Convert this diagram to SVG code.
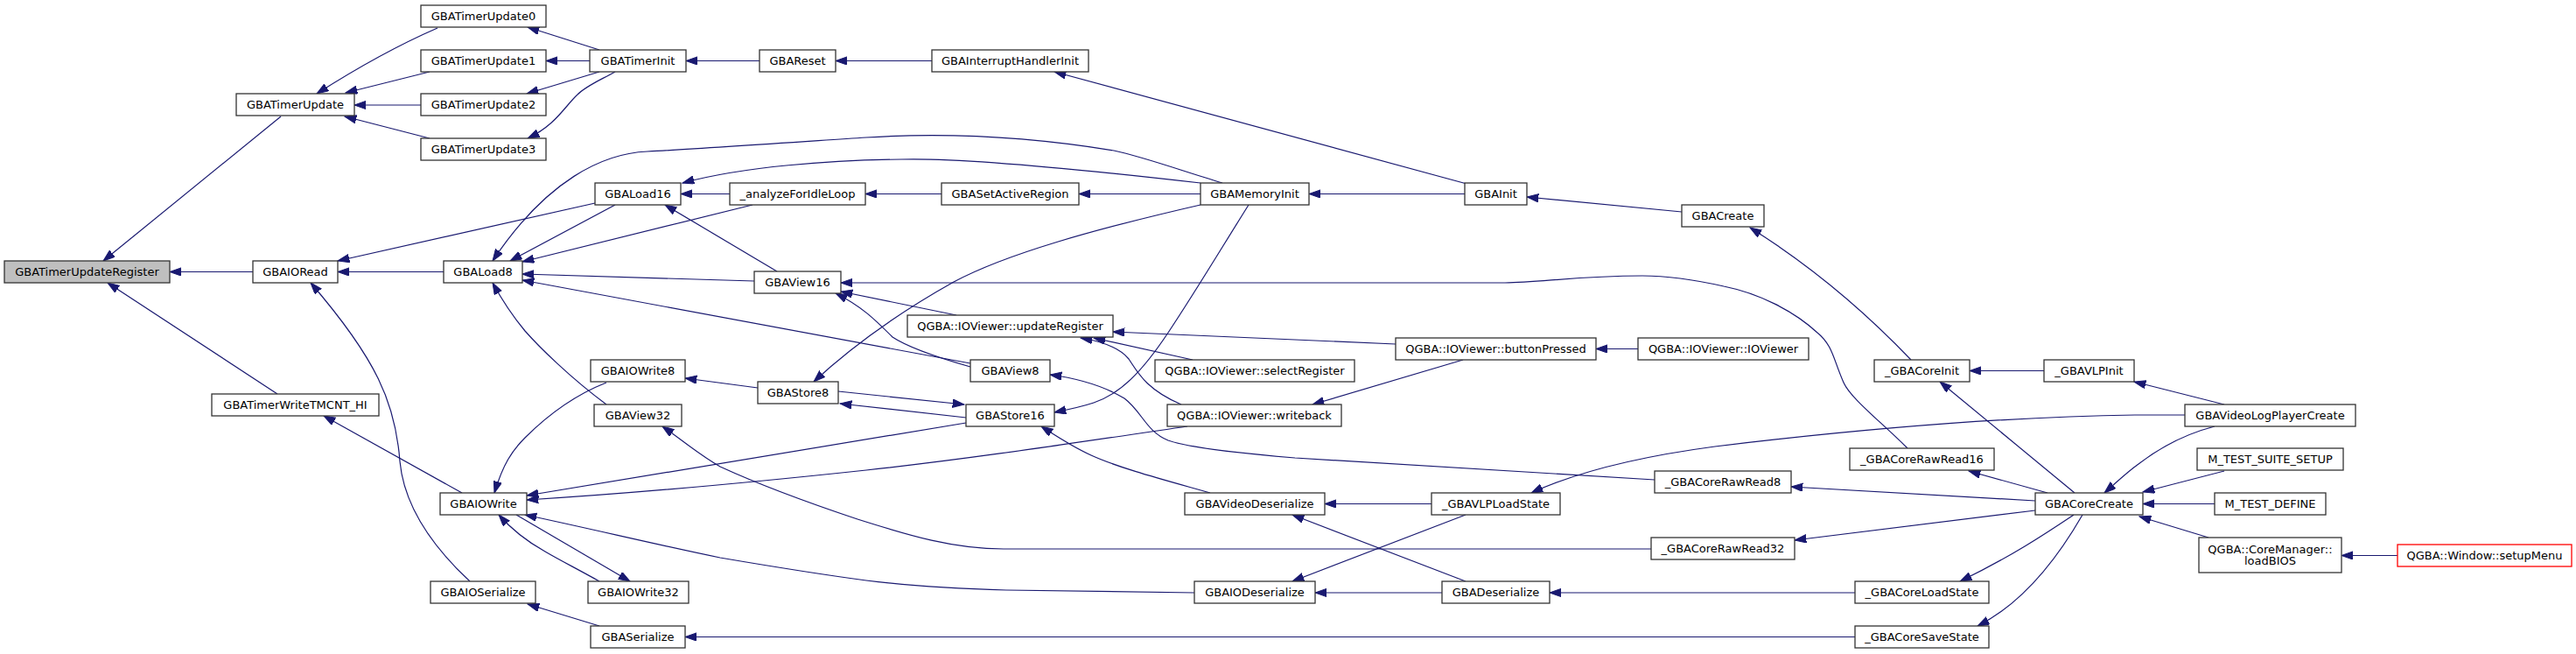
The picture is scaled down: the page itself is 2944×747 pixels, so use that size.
<svg xmlns="http://www.w3.org/2000/svg" width="2944" height="747" viewBox="0 0 2944 747">
<style>
.n rect{fill:#ffffff;stroke:#333333;stroke-width:1.3}
.n text{font-family:"DejaVu Sans","Liberation Sans",sans-serif;font-size:13px;fill:#000000;text-anchor:middle}
#n1 rect{fill:#bfbfbf}
#n43 rect{stroke:#ff0000}
.e path{fill:none;stroke:#191970;stroke-width:1.2;marker-end:url(#a)}
</style>
<defs>
<marker id="a" markerWidth="14" markerHeight="10" refX="13.3" refY="4.7" orient="auto" markerUnits="userSpaceOnUse"><path d="M0,0 L13.3,4.7 L0,9.4 z" fill="#191970" stroke="#191970" stroke-width="1"/></marker>
</defs>
<rect width="2944" height="747" fill="#ffffff"/>
<g class="e" id="edges">
<path d="M321,133 L118,298"/>
<path d="M289,310.5 L194,310.5"/>
<path d="M317,450 L123,323"/>
<path d="M500,32 C470,45 420,70 362,107"/>
<path d="M491,82 L395,106"/>
<path d="M481,120 L405,120"/>
<path d="M491,158 L394,133"/>
<path d="M685,57 L603,31"/>
<path d="M674,69.5 L624,69.5"/>
<path d="M685,82 L602,107"/>
<path d="M703,82 C685,92 670,98 660,108 C645,122 635,143 603,158"/>
<path d="M868,69.5 L784,69.5"/>
<path d="M1065,69.5 L955,69.5"/>
<path d="M1680,211 L1205,82"/>
<path d="M1674,221.5 L1496,221.5"/>
<path d="M1922,242 L1745,225"/>
<path d="M2184,411 C2140,365 2080,310 2000,260"/>
<path d="M680,232 L386,298"/>
<path d="M507,310.5 L386,310.5"/>
<path d="M537,664 C495,625 462,580 457,527 C452,460 430,410 355,323"/>
<path d="M703,234 L583,298"/>
<path d="M860,234 L597,299"/>
<path d="M862,321 L597,313"/>
<path d="M1109,415 L597,320"/>
<path d="M693,462 C650,430 615,395 600,378 C585,360 575,345 563,323"/>
<path d="M1397,209 C1350,195 1310,180 1273,172 C1200,160 1100,150 990,157 C900,163 800,170 740,173 C690,175 625,205 563,298"/>
<path d="M1372,209 C1250,195 1100,180 1030,182 C950,183 850,190 780,209"/>
<path d="M834,221.5 L778,221.5"/>
<path d="M1076,221.5 L989,221.5"/>
<path d="M1372,221.5 L1233,221.5"/>
<path d="M888,310 L760,234"/>
<path d="M2180,512 C2150,482 2115,455 2107,437 C2095,410 2095,395 2077,380 C2050,355 2010,335 1970,327 C1930,318 1900,315 1877,315 C1800,315 1760,323 1720,323 L961,323"/>
<path d="M1093,360 L961,333"/>
<path d="M1109,419 C1060,405 1035,395 1020,385 C1000,365 985,350 955,335"/>
<path d="M1595,393 L1272,379"/>
<path d="M1363,411 L1250,386"/>
<path d="M1350,462 C1310,445 1300,425 1290,410 C1280,398 1260,390 1235,386"/>
<path d="M1672,411 L1500,462"/>
<path d="M1872,398.5 L1824,398.5"/>
<path d="M1357,487 C1200,510 1100,525 990,537 C850,552 700,565 602,571"/>
<path d="M1104,483 L602,566"/>
<path d="M958,447 L1102,462"/>
<path d="M1104,477 L960,461"/>
<path d="M866,443 L783,432"/>
<path d="M693,437 C660,450 630,470 600,500 C585,515 575,530 565,563"/>
<path d="M1887,627 L1147,627 C1090,627 1040,612 980,593 C920,573 860,550 823,533 C800,520 780,503 757,487"/>
<path d="M1365,677 L1150,674 C1080,672 1030,668 990,663 C930,655 870,645 823,637 C750,622 680,605 600,588"/>
<path d="M685,664 C660,650 640,640 623,630 C605,620 585,605 570,588"/>
<path d="M590,588 L720,664"/>
<path d="M685,715 L603,690"/>
<path d="M2120,727.5 L783,727.5"/>
<path d="M1383,563 C1330,548 1280,535 1247,520 C1225,510 1210,500 1190,487"/>
<path d="M1427,234 C1395,285 1365,335 1335,380 C1305,425 1280,450 1250,460 C1235,465 1220,468 1205,471"/>
<path d="M1372,234 C1250,262 1150,290 1090,322 C1040,350 985,385 930,436"/>
<path d="M1636,575.5 L1514,575.5"/>
<path d="M1675,664 L1477,588"/>
<path d="M1675,588 L1477,664"/>
<path d="M1648,677 L1503,677"/>
<path d="M2120,677 L1771,677"/>
<path d="M2497,474 L2440,474 C2300,476 2150,487 1960,510 C1870,522 1800,540 1750,563"/>
<path d="M2542,462 L2439,436"/>
<path d="M2531,487 C2500,495 2470,510 2444,530 C2430,540 2420,550 2405,563"/>
<path d="M2336,423.5 L2251,423.5"/>
<path d="M2371,563 L2217,436"/>
<path d="M2340,563 L2250,538"/>
<path d="M2326,572 L2047,556"/>
<path d="M2326,583 L2051,617"/>
<path d="M2370,588 C2340,608 2300,635 2240,664"/>
<path d="M2380,588 C2350,640 2310,690 2260,715"/>
<path d="M2542,538 L2449,562"/>
<path d="M2531,575.5 L2449,575.5"/>
<path d="M2524,614 L2445,590"/>
<path d="M2740,634.5 L2676,634.5"/>
<path d="M528,563 L370,475"/>
<path d="M1891,548 L1480,523 C1420,518 1360,512 1335,503 C1310,493 1305,470 1285,455 C1260,440 1230,432 1200,428"/>
</g>
<g class="n" id="n1"><rect x="5" y="298" width="189" height="25"/><text x="99.5" y="315">GBATimerUpdateRegister</text></g>
<g class="n" id="n2"><rect x="270" y="107" width="135" height="25"/><text x="337.5" y="124">GBATimerUpdate</text></g>
<g class="n" id="n3"><rect x="289" y="298" width="97" height="25"/><text x="337.5" y="315">GBAIORead</text></g>
<g class="n" id="n4"><rect x="242" y="450" width="191" height="25"/><text x="337.5" y="467">GBATimerWriteTMCNT_HI</text></g>
<g class="n" id="n5"><rect x="481" y="6" width="143" height="25"/><text x="552.5" y="23">GBATimerUpdate0</text></g>
<g class="n" id="n6"><rect x="481" y="57" width="143" height="25"/><text x="552.5" y="74">GBATimerUpdate1</text></g>
<g class="n" id="n7"><rect x="481" y="107" width="143" height="25"/><text x="552.5" y="124">GBATimerUpdate2</text></g>
<g class="n" id="n8"><rect x="481" y="158" width="143" height="25"/><text x="552.5" y="175">GBATimerUpdate3</text></g>
<g class="n" id="n9"><rect x="674" y="57" width="110" height="25"/><text x="729" y="74">GBATimerInit</text></g>
<g class="n" id="n10"><rect x="868" y="57" width="87" height="25"/><text x="911.5" y="74">GBAReset</text></g>
<g class="n" id="n11"><rect x="1065" y="57" width="179" height="25"/><text x="1154.5" y="74">GBAInterruptHandlerInit</text></g>
<g class="n" id="n12"><rect x="1674" y="209" width="71" height="25"/><text x="1709.5" y="226">GBAInit</text></g>
<g class="n" id="n13"><rect x="1922" y="234" width="94" height="25"/><text x="1969" y="251">GBACreate</text></g>
<g class="n" id="n14"><rect x="680" y="209" width="98" height="25"/><text x="729" y="226">GBALoad16</text></g>
<g class="n" id="n15"><rect x="834" y="209" width="155" height="25"/><text x="911.5" y="226">_analyzeForIdleLoop</text></g>
<g class="n" id="n16"><rect x="1076" y="209" width="157" height="25"/><text x="1154.5" y="226">GBASetActiveRegion</text></g>
<g class="n" id="n17"><rect x="1372" y="209" width="124" height="25"/><text x="1434" y="226">GBAMemoryInit</text></g>
<g class="n" id="n18"><rect x="507" y="298" width="90" height="25"/><text x="552" y="315">GBALoad8</text></g>
<g class="n" id="n19"><rect x="862" y="310" width="99" height="25"/><text x="911.5" y="327">GBAView16</text></g>
<g class="n" id="n20"><rect x="1037" y="360" width="235" height="25"/><text x="1154.5" y="377">QGBA::IOViewer::updateRegister</text></g>
<g class="n" id="n21"><rect x="1109" y="411" width="91" height="25"/><text x="1154.5" y="428">GBAView8</text></g>
<g class="n" id="n22"><rect x="1104" y="462" width="101" height="25"/><text x="1154.5" y="479">GBAStore16</text></g>
<g class="n" id="n23"><rect x="1320" y="411" width="228" height="25"/><text x="1434" y="428">QGBA::IOViewer::selectRegister</text></g>
<g class="n" id="n24"><rect x="1334" y="462" width="199" height="25"/><text x="1433.5" y="479">QGBA::IOViewer::writeback</text></g>
<g class="n" id="n25"><rect x="1354" y="563" width="160" height="25"/><text x="1434" y="580">GBAVideoDeserialize</text></g>
<g class="n" id="n26"><rect x="1365" y="664" width="138" height="25"/><text x="1434" y="681">GBAIODeserialize</text></g>
<g class="n" id="n27"><rect x="1595" y="386" width="229" height="25"/><text x="1709.5" y="403">QGBA::IOViewer::buttonPressed</text></g>
<g class="n" id="n28"><rect x="1872" y="386" width="195" height="25"/><text x="1969.5" y="403">QGBA::IOViewer::IOViewer</text></g>
<g class="n" id="n29"><rect x="1636" y="563" width="147" height="25"/><text x="1709.5" y="580">_GBAVLPLoadState</text></g>
<g class="n" id="n30"><rect x="1891" y="538" width="156" height="25"/><text x="1969" y="555">_GBACoreRawRead8</text></g>
<g class="n" id="n31"><rect x="1887" y="614" width="164" height="25"/><text x="1969" y="631">_GBACoreRawRead32</text></g>
<g class="n" id="n32"><rect x="1648" y="664" width="123" height="25"/><text x="1709.5" y="681">GBADeserialize</text></g>
<g class="n" id="n33"><rect x="2142" y="411" width="109" height="25"/><text x="2196.5" y="428">_GBACoreInit</text></g>
<g class="n" id="n34"><rect x="2336" y="411" width="103" height="25"/><text x="2387.5" y="428">_GBAVLPInit</text></g>
<g class="n" id="n35"><rect x="2114" y="512" width="165" height="25"/><text x="2196.5" y="529">_GBACoreRawRead16</text></g>
<g class="n" id="n36"><rect x="2326" y="563" width="123" height="25"/><text x="2387.5" y="580">GBACoreCreate</text></g>
<g class="n" id="n37"><rect x="2120" y="664" width="153" height="25"/><text x="2196.5" y="681">_GBACoreLoadState</text></g>
<g class="n" id="n38"><rect x="2120" y="715" width="153" height="25"/><text x="2196.5" y="732">_GBACoreSaveState</text></g>
<g class="n" id="n39"><rect x="2497" y="462" width="195" height="25"/><text x="2594.5" y="479">GBAVideoLogPlayerCreate</text></g>
<g class="n" id="n40"><rect x="2511" y="512" width="167" height="25"/><text x="2594.5" y="529">M_TEST_SUITE_SETUP</text></g>
<g class="n" id="n41"><rect x="2531" y="563" width="127" height="25"/><text x="2594.5" y="580">M_TEST_DEFINE</text></g>
<g class="n" id="n42"><rect x="2513" y="614" width="163" height="40"/><text x="2594.5" y="631.5">QGBA::CoreManager::</text><text x="2594.5" y="645">loadBIOS</text></g>
<g class="n" id="n43"><rect x="2740" y="622" width="199" height="25"/><text x="2839.5" y="639">QGBA::Window::setupMenu</text></g>
<g class="n" id="n44"><rect x="675" y="411" width="108" height="25"/><text x="729" y="428">GBAIOWrite8</text></g>
<g class="n" id="n45"><rect x="679" y="462" width="100" height="25"/><text x="729" y="479">GBAView32</text></g>
<g class="n" id="n46"><rect x="866" y="436" width="92" height="25"/><text x="912" y="453">GBAStore8</text></g>
<g class="n" id="n47"><rect x="503" y="563" width="99" height="25"/><text x="552.5" y="580">GBAIOWrite</text></g>
<g class="n" id="n48"><rect x="492" y="664" width="120" height="25"/><text x="552" y="681">GBAIOSerialize</text></g>
<g class="n" id="n49"><rect x="672" y="664" width="115" height="25"/><text x="729.5" y="681">GBAIOWrite32</text></g>
<g class="n" id="n50"><rect x="675" y="715" width="108" height="25"/><text x="729" y="732">GBASerialize</text></g>
</svg>
